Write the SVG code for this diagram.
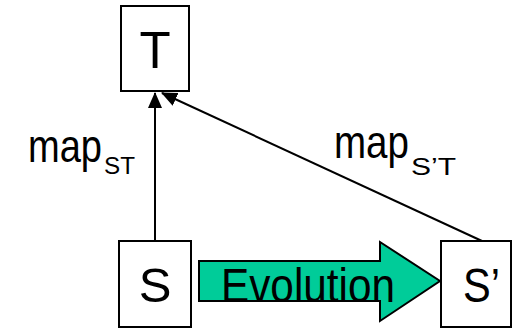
<svg xmlns="http://www.w3.org/2000/svg" width="512" height="329" viewBox="0 0 512 329">
<defs>
<style>
.box{fill:#fff;stroke:#000;stroke-width:2}
.lbl{font-family:"Liberation Sans",Arial,sans-serif;fill:#000}
.edge{stroke:#000;stroke-width:2;fill:none}
</style>
<marker id="ah2" markerWidth="16" markerHeight="16" refX="15" refY="7" orient="auto" markerUnits="userSpaceOnUse" viewBox="0 0 16 14">
<path d="M0,0 L16,7 L0,14 Z" fill="#000"/>
</marker>
</defs>
<g id="connectors">
<line class="edge" x1="155" y1="241" x2="155" y2="93" marker-end="url(#ah2)"/>
<line class="edge" x1="482" y1="241" x2="162" y2="93" marker-end="url(#ah2)"/>
<path d="M199,261 L380,261 L380,242 L440,281 L380,321 L380,301 L199,301 Z" fill="#00CC99" stroke="#000" stroke-width="2"/>
<text class="lbl" x="221" y="302" font-size="49" textLength="174" lengthAdjust="spacingAndGlyphs">Evolution</text>
<text class="lbl" x="28" y="162" font-size="46" textLength="74" lengthAdjust="spacingAndGlyphs">map</text>
<text class="lbl" x="104" y="174" font-size="23" textLength="31" lengthAdjust="spacingAndGlyphs">ST</text>
<text class="lbl" x="334" y="158" font-size="46" textLength="75" lengthAdjust="spacingAndGlyphs">map</text>
<text class="lbl" x="411" y="175" font-size="23" textLength="45" lengthAdjust="spacingAndGlyphs">S’T</text>
</g>
<g id="T">
<rect class="box" x="121" y="6" width="68" height="85"/>
<text class="lbl" x="155" y="68" font-size="51" text-anchor="middle">T</text>
</g>
<g id="S">
<rect class="box" x="119" y="241" width="72" height="86"/>
<text class="lbl" x="155" y="302" font-size="49" text-anchor="middle">S</text>
</g>
<g id="Sprime">
<rect class="box" x="441" y="241" width="70" height="86"/>
<text class="lbl" x="463" y="302" font-size="49" textLength="37" lengthAdjust="spacingAndGlyphs">S’</text>
</g>
</svg>
